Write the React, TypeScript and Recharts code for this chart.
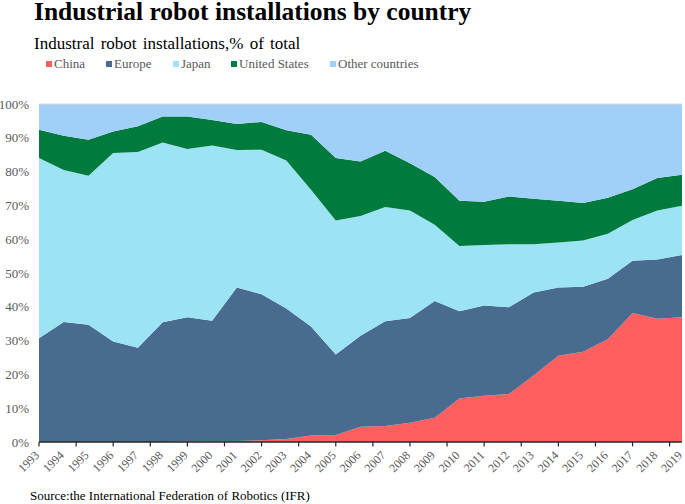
import React from "react";
import { Area, AreaChart, ReferenceLine, XAxis, YAxis } from "recharts";

// values, % of total installations per year
const years = [
  "1993", "1994", "1995", "1996", "1997", "1998", "1999", "2000", "2001",
  "2002", "2003", "2004", "2005", "2006", "2007", "2008", "2009", "2010",
  "2011", "2012", "2013", "2014", "2015", "2016", "2017", "2018", "2019",
];
const china = [
  0, 0, 0, 0, 0, 0, 0.2, 0.3, 0.3, 0.5, 0.9, 1.9, 2.1, 4.5, 4.7, 5.7, 7.2,
  12.9, 13.7, 14.2, 19.7, 25.5, 26.7, 30.4, 38.2, 36.5, 36.9,
];
const europe = [
  30.7, 35.5, 34.7, 29.7, 27.9, 35.4, 36.7, 35.6, 45.4, 43.2, 38.6, 32.3,
  23.8, 26.9, 31.0, 31.0, 34.5, 25.8, 26.7, 25.7, 24.5, 20.2, 19.2, 17.9,
  15.4, 17.5, 18.4,
];
const japan = [
  53.3, 45.0, 44.1, 55.8, 57.9, 53.2, 49.8, 51.8, 40.7, 42.8, 43.8, 40.4,
  39.6, 35.5, 33.8, 31.8, 22.6, 19.3, 17.9, 18.6, 14.3, 13.3, 13.7, 13.3,
  12.1, 14.5, 14.6,
];
const unitedStates = [
  8.4, 10.1, 10.6, 6.4, 7.6, 7.7, 9.6, 7.6, 7.7, 8.2, 8.9, 16.3, 18.5, 16.1,
  16.7, 14.0, 14.1, 13.4, 12.8, 14.1, 13.5, 12.4, 11.1, 10.7, 9.1, 9.6, 9.2,
];
const otherCountries = [
  7.6, 9.4, 10.6, 8.1, 6.6, 3.7, 3.7, 4.7, 5.9, 5.3, 7.8, 9.1, 16.0, 17.0,
  13.8, 17.5, 21.6, 28.6, 28.9, 27.4, 28.0, 28.6, 29.3, 27.7, 25.2, 21.9,
  20.9,
];
const yTicks = [0, 10, 20, 30, 40, 50, 60, 70, 80, 90, 100];
// the original axis puts its tick marks every one and a half categories
const markTicks = Array.from({ length: 18 }, (_, k) => k * 1.5);

const series = [
  { key: "china", name: "China", color: "#ff5f5f", left: 46 },
  { key: "europe", name: "Europe", color: "#486b8f", left: 106 },
  { key: "japan", name: "Japan", color: "#9ce3f4", left: 173 },
  { key: "us", name: "United States", color: "#007a3d", left: 231 },
  { key: "other", name: "Other countries", color: "#a0cff8", left: 330 },
];

const data = years.map((year, i) => ({
  i,
  year,
  china: china[i],
  europe: europe[i],
  japan: japan[i],
  us: unitedStates[i],
  other: otherCountries[i],
}));

const SERIF = '"Liberation Serif", "Times New Roman", serif';

function LegendRow() {
  return (
    <>
      {series.map((s) => (
        <div
          key={s.key}
          style={{
            position: "absolute",
            left: s.left,
            top: 57,
            display: "flex",
            alignItems: "center",
            fontSize: 13,
            lineHeight: "13px",
            color: "#595959",
            whiteSpace: "nowrap",
          }}
        >
          <span
            style={{
              width: 6,
              height: 6,
              background: s.color,
              marginRight: 2,
              display: "inline-block",
            }}
          />
          {s.name}
        </div>
      ))}
    </>
  );
}

export default function App() {
  return (
    <div
      style={{
        position: "absolute",
        left: 0,
        top: 0,
        width: 685,
        height: 504,
        background: "#fff",
        fontFamily: SERIF,
      }}
    >
      <div
        style={{
          position: "absolute",
          left: 34,
          top: 0,
          fontSize: 25.5,
          lineHeight: "24px",
          fontWeight: "bold",
          color: "#000",
          whiteSpace: "nowrap",
        }}
      >
        Industrial robot installations by country
      </div>
      <div
        style={{
          position: "absolute",
          left: 34,
          top: 35,
          fontSize: 17,
          lineHeight: "17px",
          color: "#000",
          wordSpacing: 2,
          whiteSpace: "nowrap",
        }}
      >
        Industral robot installations,% of total
      </div>
      <LegendRow />
      <AreaChart
        width={685}
        height={504}
        data={data}
        margin={{ top: 104, right: 3, bottom: 0, left: 0 }}
      >
        <XAxis
          type="number"
          dataKey="i"
          domain={[0, 26]}
          ticks={data.map((d) => d.i)}
          interval={0}
          tickFormatter={(v) => years[v]}
          angle={-45}
          textAnchor="end"
          height={62}
          tickLine={false}
          tickSize={4}
          tickMargin={4}
          axisLine={{ stroke: "#262626", strokeWidth: 1.5 }}
          tick={{ fontSize: 12, fill: "#595959", fontFamily: SERIF, dx: -5 }}
        />
        <YAxis
          domain={[0, 100]}
          ticks={yTicks}
          interval={0}
          tickFormatter={(v) => `${v}%`}
          width={39}
          axisLine={false}
          tickLine={false}
          tickMargin={4}
          tick={{ fontSize: 13, fill: "#595959", fontFamily: SERIF }}
        />
        {series.map((s) => (
          <Area
            key={s.key}
            type="linear"
            dataKey={s.key}
            name={s.name}
            stackId="share"
            stroke="none"
            fill={s.color}
            fillOpacity={1}
            isAnimationActive={false}
          />
        ))}
        <ReferenceLine y={100} stroke="#d9d9d9" />
        {markTicks.map((m) => (
          <ReferenceLine
            key={`mark-${m}`}
            segment={[
              { x: m, y: 0 },
              { x: m, y: -1.3 },
            ]}
            ifOverflow="visible"
            stroke="#262626"
            strokeWidth={1.2}
          />
        ))}
      </AreaChart>
      <div
        style={{
          position: "absolute",
          left: 30,
          top: 489,
          fontSize: 13,
          lineHeight: "13px",
          color: "#000",
          whiteSpace: "nowrap",
        }}
      >
        Source:the International Federation of Robotics (IFR)
      </div>
    </div>
  );
}
